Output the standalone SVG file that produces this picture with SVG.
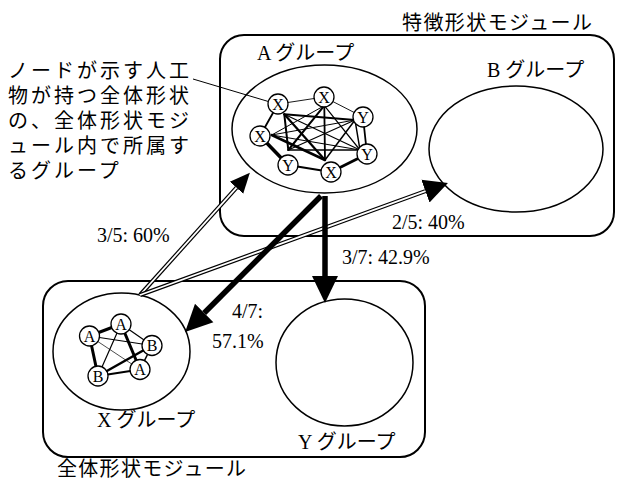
<svg xmlns="http://www.w3.org/2000/svg" width="618" height="481" viewBox="0 0 618 481">
<style>
.mod{fill:none;stroke:#000;stroke-width:2}
.grp{fill:none;stroke:#000;stroke-width:1.5}
.t{font-family:"Liberation Serif","Noto Sans CJK JP",serif;font-size:20px;fill:#000}
.ann{font-family:"Liberation Serif","Noto Sans CJK JP",serif;font-size:20px;letter-spacing:3px;fill:#000}
.n circle{fill:#fff;stroke:#000;stroke-width:1.3}
.n text{font-family:"Liberation Serif",serif;font-size:16px;text-anchor:middle;fill:#000}
.e line{stroke:#000;stroke-linecap:round}
.thick{stroke:#000;stroke-width:5.5;fill:none}
.dblo{stroke:#000;stroke-width:4.2;fill:none}
.dbli{stroke:#fff;stroke-width:1.8;fill:none}
.lead{stroke:#000;stroke-width:1;fill:none}
</style>
<defs>
<marker id="big" markerUnits="userSpaceOnUse" viewBox="0 -14 28 28" markerWidth="28" markerHeight="28" refX="0" refY="0" orient="auto"><path d="M0,-13 L27,0 L0,13 z" fill="#000"/></marker>
<marker id="mid" markerUnits="userSpaceOnUse" viewBox="0 -13 26 26" markerWidth="26" markerHeight="26" refX="0" refY="0" orient="auto"><path d="M0,-12 L24,0 L0,12 z" fill="#000"/></marker>
<marker id="sml" markerUnits="userSpaceOnUse" viewBox="0 -11 22 22" markerWidth="22" markerHeight="22" refX="0" refY="0" orient="auto"><path d="M0,-9 L20,0 L0,9 z" fill="#000"/></marker>
</defs>

<g id="module-feature">
<rect class="mod" x="220" y="35" width="394" height="201" rx="24" ry="24"/>
<text class="t" x="402" y="30" textLength="190">特徴形状モジュール</text>
</g>
<g id="module-whole">
<rect class="mod" x="43" y="281" width="382" height="176" rx="25" ry="25"/>
<text class="t" x="57" y="476" textLength="189">全体形状モジュール</text>
</g>

<g id="annotation">
<text class="ann" x="8" y="77.5">ノードが示す人工</text>
<text class="ann" x="8" y="102.5">物が持つ全体形状</text>
<text class="ann" x="8" y="127.5">の、全体形状モジ</text>
<text class="ann" x="8" y="152.5">ュール内で所属す</text>
<text class="ann" x="8" y="177.5">るグループ</text>
<line class="lead" x1="193" y1="79" x2="268" y2="101.4"/>
</g>

<g id="group-B">
<ellipse class="grp" cx="516" cy="149" rx="87" ry="63"/>
<text class="t" x="487" y="77">B グループ</text>
</g>
<g id="group-Y">
<ellipse class="grp" cx="344.5" cy="362.5" rx="68.5" ry="63.5"/>
<text class="t" x="298" y="449">Y グループ</text>
</g>

<g id="group-A">
<ellipse class="grp" cx="324.5" cy="129" rx="92.5" ry="64"/>
<text class="t" x="257" y="60">A グループ</text>
<g class="e">
<line x1="278" y1="104" x2="324" y2="97" stroke-width="0.9"/>
<line x1="324" y1="97" x2="363" y2="117" stroke-width="0.9"/>
<line x1="363" y1="117" x2="367" y2="154" stroke-width="1.8"/>
<line x1="367" y1="154" x2="331" y2="172" stroke-width="2.8"/>
<line x1="331" y1="172" x2="288" y2="165" stroke-width="2.2"/>
<line x1="288" y1="165" x2="260" y2="136" stroke-width="3.5"/>
<line x1="260" y1="136" x2="278" y2="104" stroke-width="1.8"/>
<line x1="284.3" y1="114.3" x2="355" y2="120" stroke-width="2"/>
<line x1="284.3" y1="114.3" x2="288.3" y2="150" stroke-width="2"/>
<line x1="288.3" y1="150" x2="360" y2="150" stroke-width="1.5"/>
<line x1="355" y1="120" x2="360" y2="150" stroke-width="1.5"/>
<line x1="284.3" y1="114.3" x2="360" y2="150" stroke-width="1.2"/>
<line x1="284.3" y1="114.3" x2="325" y2="160" stroke-width="2.2"/>
<line x1="355" y1="120" x2="288.3" y2="150" stroke-width="1.2"/>
<line x1="355" y1="120" x2="325" y2="160" stroke-width="1.5"/>
<line x1="324.3" y1="105.7" x2="288.3" y2="150" stroke-width="2"/>
<line x1="324.3" y1="105.7" x2="325" y2="160" stroke-width="1.8"/>
<line x1="324.3" y1="105.7" x2="271.7" y2="135" stroke-width="1"/>
<line x1="324.3" y1="105.7" x2="360" y2="150" stroke-width="1.2"/>
<line x1="271.7" y1="135" x2="355" y2="120" stroke-width="1"/>
<line x1="271.7" y1="135" x2="360" y2="150" stroke-width="1.2"/>
<line x1="271.7" y1="135" x2="325" y2="160" stroke-width="2.5"/>
</g>
<g class="n" id="a-x1"><circle cx="278" cy="104" r="10"/><text x="278" y="109.5">X</text></g>
<g class="n" id="a-x2"><circle cx="324" cy="97" r="10"/><text x="324" y="102.5">X</text></g>
<g class="n" id="a-y1"><circle cx="363" cy="117" r="10"/><text x="363" y="122.5">Y</text></g>
<g class="n" id="a-x3"><circle cx="260" cy="136" r="10"/><text x="260" y="141.5">X</text></g>
<g class="n" id="a-y2"><circle cx="367" cy="154" r="10"/><text x="367" y="159.5">Y</text></g>
<g class="n" id="a-y3"><circle cx="288" cy="165" r="10"/><text x="288" y="170.5">Y</text></g>
<g class="n" id="a-x4"><circle cx="331" cy="172" r="10"/><text x="331" y="177.5">X</text></g>
</g>

<g id="group-X">
<ellipse class="grp" cx="121.5" cy="351.5" rx="68.5" ry="58.5"/>
<text class="t" x="97" y="427">X グループ</text>
<g class="e">
<line x1="89.5" y1="336" x2="121" y2="324" stroke-width="3"/>
<line x1="121" y1="324" x2="152" y2="345.5" stroke-width="1.2"/>
<line x1="152" y1="345.5" x2="140" y2="369.5" stroke-width="1.5"/>
<line x1="140" y1="369.5" x2="98" y2="376" stroke-width="2"/>
<line x1="98" y1="376" x2="89.5" y2="336" stroke-width="3"/>
<line x1="89.5" y1="336" x2="152" y2="345.5" stroke-width="1.2"/>
<line x1="89.5" y1="336" x2="140" y2="369.5" stroke-width="0.7"/>
<line x1="121" y1="324" x2="98" y2="376" stroke-width="1.2"/>
<line x1="121" y1="324" x2="140" y2="369.5" stroke-width="3"/>
<line x1="98" y1="376" x2="152" y2="345.5" stroke-width="2.5"/>
</g>
<g class="n" id="x-a1"><circle cx="89.5" cy="336" r="10"/><text x="89.5" y="341.5">A</text></g>
<g class="n" id="x-a2"><circle cx="121" cy="324" r="10"/><text x="121" y="329.5">A</text></g>
<g class="n" id="x-b1"><circle cx="152" cy="345.5" r="10"/><text x="152" y="351">B</text></g>
<g class="n" id="x-b2"><circle cx="98" cy="376" r="10"/><text x="98" y="381.5">B</text></g>
<g class="n" id="x-a3"><circle cx="140" cy="369.5" r="10"/><text x="140" y="375">A</text></g>
</g>

<g id="connectors">
<line class="dblo" x1="140" y1="295" x2="236.5" y2="187.7" marker-end="url(#sml)"/>
<line class="dbli" x1="140" y1="295" x2="236.5" y2="187.7"/>
<line class="dblo" x1="140" y1="295" x2="425.4" y2="191.1" marker-end="url(#mid)"/>
<line class="dbli" x1="140" y1="295" x2="425.4" y2="191.1"/>
<line class="thick" x1="321" y1="196" x2="204.2" y2="313" marker-end="url(#big)"/>
<line class="thick" x1="325" y1="196" x2="325" y2="276" marker-end="url(#big)"/>
<text class="t" x="97" y="242">3/5: 60%</text>
<text class="t" x="392" y="229">2/5: 40%</text>
<text class="t" x="342" y="264">3/7: 42.9%</text>
<text class="t" x="232" y="318">4/7:</text>
<text class="t" x="212" y="348">57.1%</text>
</g>
</svg>
